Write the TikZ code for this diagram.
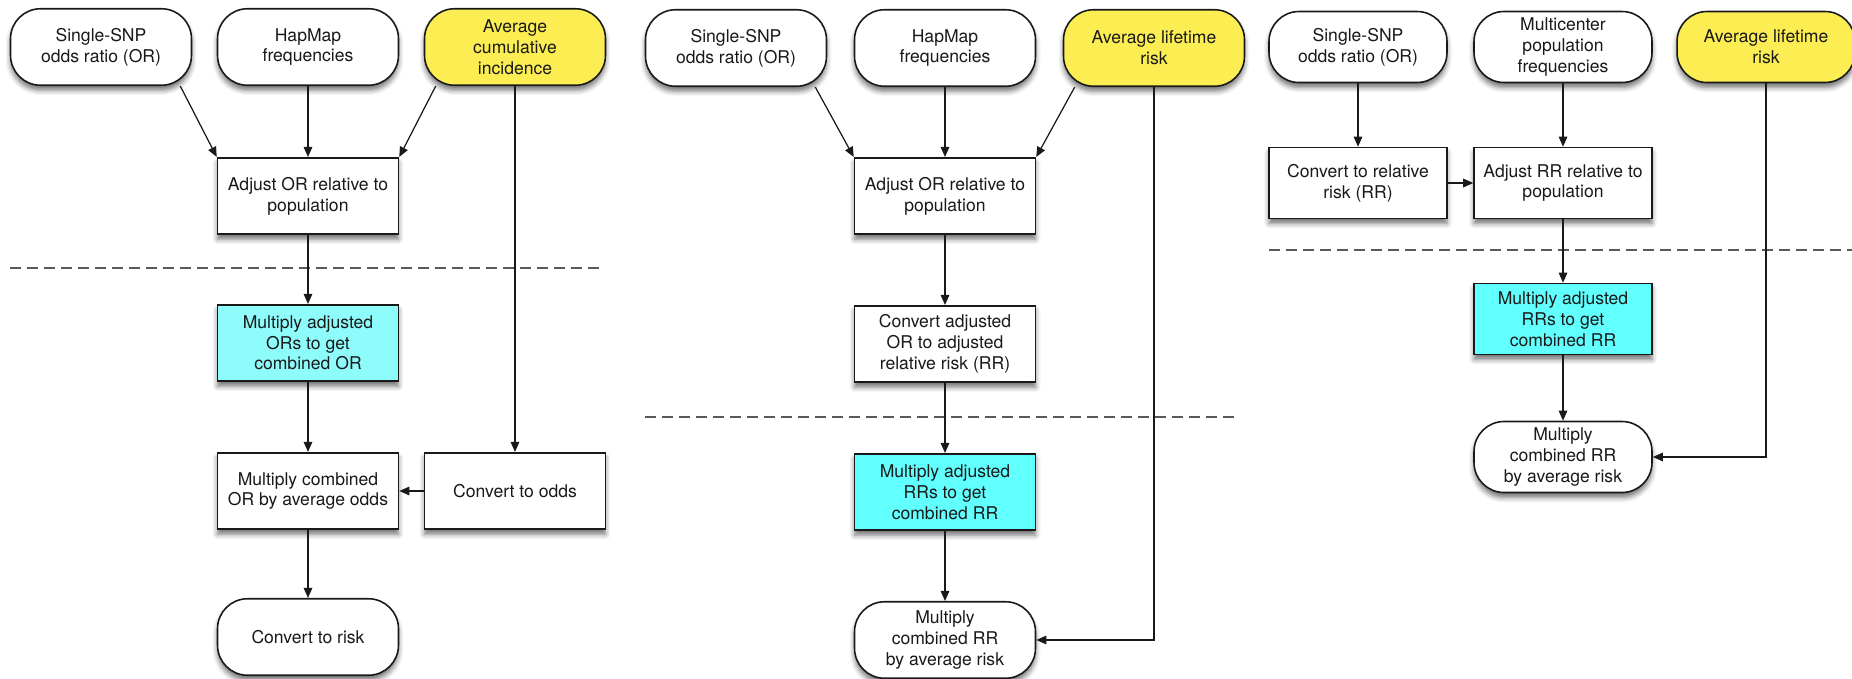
\documentclass[tikz,border=0pt]{standalone}
\usepackage{fontspec}
\setmainfont{TeX Gyre Heros}
\usetikzlibrary{arrows.meta,shadows.blur}

\begin{document}
\begin{tikzpicture}[x=0.02cm, y=-0.02cm,
    font=\fontsize{10}{11.8}\selectfont,
    nodebox/.style={draw=black!90, line width=0.9pt, fill=white, text=black!90,
      align=center, inner sep=2pt, minimum width=3.62cm, minimum height=1.53cm,
      blur shadow={shadow xshift=0pt, shadow yshift=-0.1cm,
        shadow blur radius=0.1cm, shadow opacity=55}},
    proc/.style={nodebox},
    term/.style={nodebox, rounded corners=0.6cm},
    colC/.style={minimum width=3.56cm, minimum height=1.42cm},
    arr/.style={-{Triangle[length=0.2cm,width=0.17cm]}, line width=0.7pt, black!90},
    divider/.style={black!65, line width=0.8pt, dash pattern=on 0.22cm off 0.12cm}]

  % Colours of the inputs and of the combining step
  \definecolor{cY}{RGB}{252,238,82}   % yellow
  \definecolor{cCa}{RGB}{143,252,252} % light cyan
  \definecolor{cCb}{RGB}{98,255,255}  % cyan
  \def\dx{0.24cm}

  \useasboundingbox (0,0) rectangle (1852,679);

  % Dashed dividers, one per panel
  \foreach \xa/\xb/\y in {10/601/268, 645/1238/417, 1269/1852/250}
    \draw[divider] (\xa,\y) -- (\xb,\y);

  % ---- Panel A: cumulative incidence ----
  \node[term] (orA) at (101,47) {Single-SNP\\odds ratio (OR)};
  \node[term] (hapA) at (308,47) {HapMap\\frequencies};
  \node[term, fill=cY] (incA) at (515,47) {Average\\cumulative\\incidence};
  \node[proc] (adjA) at (308,196) {Adjust OR relative to\\population};
  \node[proc, fill=cCa] (mulA) at (308,343) {Multiply adjusted\\ORs to get\\combined OR};
  \node[proc] (cmbA) at (308,491) {Multiply combined\\OR by average odds};
  \node[proc] (oddsA) at (515,491) {Convert to odds};
  \node[term] (riskA) at (308,637) {Convert to risk};

  \draw[arr] ([xshift=-\dx]orA.south east) -- (adjA.north west);
  \draw[arr] (hapA) -- (adjA);
  \draw[arr] ([xshift=\dx]incA.south west) -- (adjA.north east);
  \draw[arr] (incA) -- (oddsA);
  \draw[arr] (adjA) -- (mulA);
  \draw[arr] (mulA) -- (cmbA);
  \draw[arr] (oddsA) -- (cmbA);
  \draw[arr] (cmbA) -- (riskA);

  % ---- Panel B: lifetime risk, HapMap ----
  \node[term] (orB) at (736,48) {Single-SNP\\odds ratio (OR)};
  \node[term] (hapB) at (945,48) {HapMap\\frequencies};
  \node[term, fill=cY] (lifeB) at (1154,48) {Average lifetime\\risk};
  \node[proc] (adjB) at (945,196) {Adjust OR relative to\\population};
  \node[proc] (rrB) at (945,344) {Convert adjusted\\OR to adjusted\\relative risk (RR)};
  \node[proc, fill=cCb] (mulB) at (945,492) {Multiply adjusted\\RRs to get\\combined RR};
  \node[term] (riskB) at (945,640) {Multiply\\combined RR\\by average risk};

  \draw[arr] ([xshift=-\dx]orB.south east) -- (adjB.north west);
  \draw[arr] (hapB) -- (adjB);
  \draw[arr] ([xshift=\dx]lifeB.south west) -- (adjB.north east);
  \draw[arr] (adjB) -- (rrB);
  \draw[arr] (rrB) -- (mulB);
  \draw[arr] (mulB) -- (riskB);
  \draw[arr] (lifeB) |- (riskB);

  % ---- Panel C: lifetime risk, multicenter ----
  \node[term, colC] (orC) at (1358,47) {Single-SNP\\odds ratio (OR)};
  \node[term, colC] (freqC) at (1563,47) {Multicenter\\population\\frequencies};
  \node[term, colC, fill=cY] (lifeC) at (1766,47) {Average lifetime\\risk};
  \node[proc, colC] (rrC) at (1358,183) {Convert to relative\\risk (RR)};
  \node[proc, colC] (adjC) at (1563,183) {Adjust RR relative to\\population};
  \node[proc, colC, fill=cCb] (mulC) at (1563,319) {Multiply adjusted\\RRs to get\\combined RR};
  \node[term, colC] (riskC) at (1563,457) {Multiply\\combined RR\\by average risk};

  \draw[arr] (orC) -- (rrC);
  \draw[arr] (freqC) -- (adjC);
  \draw[arr] (rrC) -- (adjC);
  \draw[arr] (adjC) -- (mulC);
  \draw[arr] (mulC) -- (riskC);
  \draw[arr] (lifeC) |- (riskC);

\end{tikzpicture}
\end{document}
